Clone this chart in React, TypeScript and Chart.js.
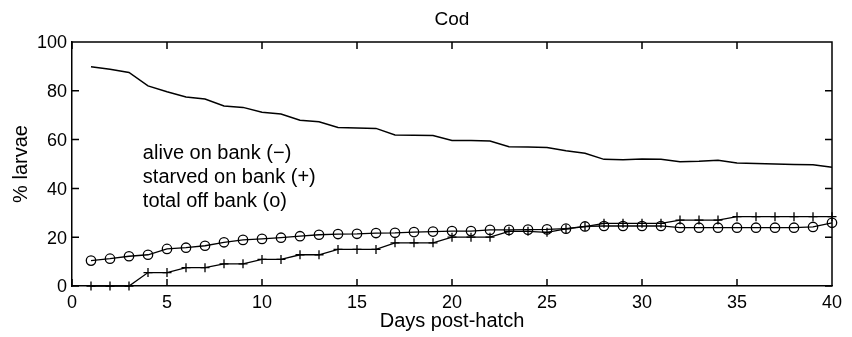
import React, { useEffect, useRef } from 'react';
import { Chart, registerables } from 'chart.js';

Chart.register(...registerables);

const days = [1, 2, 3, 4, 5, 6, 7, 8, 9, 10, 11, 12, 13, 14, 15, 16, 17, 18, 19, 20, 21, 22, 23, 24, 25, 26, 27, 28, 29, 30, 31, 32, 33, 34, 35, 36, 37, 38, 39, 40];

const aliveOnBank = [89.9, 88.8, 87.5, 82.0, 79.6, 77.5, 76.6, 73.8, 73.2, 71.2, 70.5, 67.9, 67.3, 65.0, 64.8, 64.6, 61.9, 61.8, 61.7, 59.6, 59.6, 59.4, 57.1, 57.0, 56.8, 55.4, 54.4, 51.9, 51.7, 52.0, 51.9, 50.9, 51.1, 51.5, 50.4, 50.2, 50.0, 49.8, 49.7, 48.7];

const starvedOnBank = [0, 0, 0, 5.5, 5.5, 7.5, 7.5, 9.1, 9.1, 10.9, 10.9, 12.8, 12.8, 15.0, 15.0, 15.0, 17.7, 17.7, 17.7, 20.0, 20.0, 20.0, 22.4, 22.4, 22.0, 23.4, 24.3, 25.7, 25.7, 25.7, 25.7, 27.0, 27.0, 27.0, 28.4, 28.4, 28.4, 28.4, 28.4, 28.4];

const totalOffBank = [10.4, 11.2, 12.2, 12.8, 15.2, 15.7, 16.5, 17.9, 18.9, 19.3, 19.8, 20.4, 21.0, 21.3, 21.4, 21.7, 21.8, 22.1, 22.3, 22.5, 22.5, 23.0, 23.0, 23.1, 23.2, 23.5, 24.4, 24.6, 24.6, 24.6, 24.6, 23.9, 23.9, 23.9, 23.9, 23.9, 23.9, 23.9, 24.2, 25.9];

const xTicks = [0, 5, 10, 15, 20, 25, 30, 35, 40];
const yTicks = [0, 20, 40, 60, 80, 100];

const titleText = 'Cod';
const xLabel = 'Days post-hatch';
const yLabel = '% larvae';
const legendLines = ['alive on bank (\u2212)', 'starved on bank (+)', 'total off bank (o)'];

const FONT = '"Liberation Sans", Arial, Helvetica, sans-serif';

const framePlugin = {
  id: 'frame',
  afterDraw(chart: any) {
    const { ctx, chartArea, scales } = chart;
    const { left, right, top, bottom } = chartArea;
    const xs = scales.x;
    const ys = scales.y;
    const tickLen = 7;
    ctx.save();
    ctx.strokeStyle = '#000';
    ctx.lineWidth = 1.5;
    ctx.beginPath();
    ctx.moveTo(left, top);
    ctx.lineTo(right, top);
    ctx.lineTo(right, bottom);
    xTicks.forEach((v) => {
      const px = xs.getPixelForValue(v);
      ctx.moveTo(px, bottom);
      ctx.lineTo(px, bottom - tickLen);
      ctx.moveTo(px, top);
      ctx.lineTo(px, top + tickLen);
    });
    yTicks.forEach((v) => {
      const py = ys.getPixelForValue(v);
      ctx.moveTo(left, py);
      ctx.lineTo(left + tickLen, py);
      ctx.moveTo(right, py);
      ctx.lineTo(right - tickLen, py);
    });
    ctx.stroke();

    // in-plot legend text
    ctx.fillStyle = '#000';
    ctx.font = `20px ${FONT}`;
    ctx.textAlign = 'left';
    ctx.textBaseline = 'alphabetic';
    const lx = xs.getPixelForValue(3.73);
    const ly0 = ys.getPixelForValue(52.0);
    legendLines.forEach((t, i) => {
      ctx.fillText(t, lx, ly0 + 24 * i);
    });
    ctx.restore();
  },
};

export default function App() {
  const canvasRef = useRef<HTMLCanvasElement | null>(null);

  useEffect(() => {
    const canvas = canvasRef.current;
    if (!canvas) return;
    Chart.defaults.font.family = FONT;
    Chart.defaults.color = '#000';

    const chart = new Chart(canvas, {
      type: 'line',
      data: {
        datasets: [
          {
            label: 'alive on bank',
            data: days.map((d, i) => ({ x: d, y: aliveOnBank[i] })),
            borderColor: '#000',
            borderWidth: 1.5,
            pointRadius: 0,
            tension: 0,
            clip: false as any,
          },
          {
            label: 'starved on bank',
            data: days.map((d, i) => ({ x: d, y: starvedOnBank[i] })),
            borderColor: '#000',
            borderWidth: 1.3,
            pointStyle: 'cross',
            pointRadius: 4.5,
            pointBorderWidth: 1.3,
            pointBorderColor: '#000',
            pointBackgroundColor: '#000',
            tension: 0,
            clip: false as any,
          },
          {
            label: 'total off bank',
            data: days.map((d, i) => ({ x: d, y: totalOffBank[i] })),
            borderColor: '#000',
            borderWidth: 1.3,
            pointStyle: 'circle',
            pointRadius: 4.7,
            pointBorderWidth: 1.3,
            pointBorderColor: '#000',
            pointBackgroundColor: 'rgba(0,0,0,0)',
            tension: 0,
            clip: false as any,
          },
        ],
      },
      options: {
        animation: false,
        responsive: false,
        devicePixelRatio: 1,
        layout: { padding: { left: 0, right: 20, top: 0, bottom: 0 } },
        plugins: {
          legend: { display: false },
          tooltip: { enabled: false },
          title: {
            display: true,
            text: titleText,
            fullSize: false,
            color: '#000',
            font: { size: 19, family: FONT, weight: 'normal' },
            padding: { top: 8, bottom: 11.2 },
          },
        },
        scales: {
          x: {
            type: 'linear',
            min: 0,
            max: 40,
            afterBuildTicks: (s: any) => {
              s.ticks = xTicks.map((v) => ({ value: v }));
            },
            afterFit: (s: any) => {
              s.height = 51;
            },
            ticks: {
              autoSkip: false,
              maxRotation: 0,
              padding: 6,
              color: '#000',
              font: { size: 18, family: FONT },
            },
            grid: { display: false, drawTicks: false, tickLength: 0 },
            border: { display: true, color: '#000', width: 1.5 },
            title: {
              display: true,
              text: xLabel,
              color: '#000',
              font: { size: 20, family: FONT },
              padding: { top: 0, bottom: 3.4 },
            },
          },
          y: {
            type: 'linear',
            min: 0,
            max: 100,
            afterBuildTicks: (s: any) => {
              s.ticks = yTicks.map((v) => ({ value: v }));
            },
            afterFit: (s: any) => {
              s.width = 72;
            },
            ticks: {
              autoSkip: false,
              padding: 5,
              labelOffset: 1.5,
              color: '#000',
              font: { size: 18, family: FONT },
            },
            grid: { display: false, drawTicks: false, tickLength: 0 },
            border: { display: true, color: '#000', width: 1.5 },
            title: {
              display: true,
              text: yLabel,
              color: '#000',
              font: { size: 20, family: FONT },
              padding: { top: 9, bottom: 0 },
            },
          },
        },
      } as any,
      plugins: [framePlugin],
    });

    return () => {
      chart.destroy();
    };
  }, []);

  return (
    <div style={{ position: 'fixed', left: 0, top: 0, width: 852, height: 337, background: '#fff' }}>
      <canvas ref={canvasRef} width={852} height={337} style={{ display: 'block' }} />
    </div>
  );
}
